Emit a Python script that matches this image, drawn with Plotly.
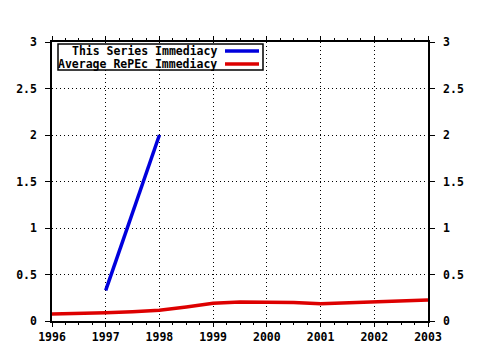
import plotly.graph_objects as go

series_x = [1997, 1998]
series_y = [0.33, 2.0]

avg_x = [1996, 1996.5, 1997, 1997.5, 1998, 1998.5, 1999, 1999.5, 2000, 2000.5, 2001, 2001.5, 2002, 2002.5, 2003]
avg_y = [0.075, 0.08, 0.09, 0.1, 0.115, 0.15, 0.19, 0.205, 0.205, 0.2, 0.185, 0.195, 0.205, 0.21, 0.225]

x_ticks = [1996, 1997, 1998, 1999, 2000, 2001, 2002, 2003]
y_ticks = [0, 0.5, 1, 1.5, 2, 2.5, 3]
legend_names = ["This Series Immediacy", "Average RePEc Immediacy"]
colors = ["#0000dd", "#dd0000"]

W, H = 480, 350
L, R, T, B = 52, 52, 42, 29
pw, ph = W - L - R, H - T - B

def px(x):
    return (x - L) / pw

def py(y):
    return (H - B - y) / ph

font = dict(family="DejaVu Sans Mono", size=11.5, color="black", weight="bold")

fig = go.Figure()
fig.add_trace(go.Scatter(x=avg_x, y=avg_y, mode="lines", line=dict(color=colors[1], width=3.5),
                         name=legend_names[1], showlegend=False))
fig.add_trace(go.Scatter(x=series_x, y=series_y, mode="lines", line=dict(color=colors[0], width=3.5),
                         name=legend_names[0], showlegend=False))
fig.add_trace(go.Scatter(x=avg_x, y=avg_y, mode="lines", line=dict(color="rgba(0,0,0,0)", width=0),
                         yaxis="y2", showlegend=False, hoverinfo="skip"))

axis_common = dict(showline=True, linecolor="black", linewidth=1.5, ticks="outside", tickcolor="black",
                   tickfont=font, zeroline=False, automargin=False)
grid = dict(showgrid=True, gridcolor="black", griddash="1px,3px", gridwidth=1)

fig.update_layout(
    width=W, height=H,
    margin=dict(l=L, r=R, t=T, b=B, pad=0, autoexpand=False),
    plot_bgcolor="white", paper_bgcolor="white",
    xaxis=dict(range=[1996, 2003], tickvals=x_ticks, ticktext=[str(v) for v in x_ticks],
               ticklen=4, mirror="ticks",
               minor=dict(dtick=0.25, tick0=1996, ticklen=2, ticks="outside", tickcolor="black", showgrid=False),
               **grid, **axis_common),
    yaxis=dict(range=[0, 3], tickvals=y_ticks, ticklen=5, ticklabelstandoff=6, **grid, **axis_common),
    yaxis2=dict(range=[0, 3], tickvals=y_ticks, overlaying="y", side="right", showgrid=False,
                ticklen=5, ticklabelstandoff=6, **axis_common),
)

# legend box
bx0, bx1, by0, by1 = 58, 263, 44, 70
fig.add_shape(type="rect", xref="paper", yref="paper", x0=px(bx0), x1=px(bx1), y0=py(by1), y1=py(by0),
              line=dict(color="black", width=1.5), fillcolor="white", layer="above")
rows = [51, 64]
for name, color, yy in zip(legend_names, colors, rows):
    fig.add_annotation(xref="paper", yref="paper", x=px(219), y=py(yy), text=name, showarrow=False,
                       xanchor="right", yanchor="middle", font=font)
    fig.add_shape(type="line", xref="paper", yref="paper", x0=px(225), x1=px(259), y0=py(yy), y1=py(yy),
                  line=dict(color=color, width=3.5), layer="above")

fig.write_html("out.html")
